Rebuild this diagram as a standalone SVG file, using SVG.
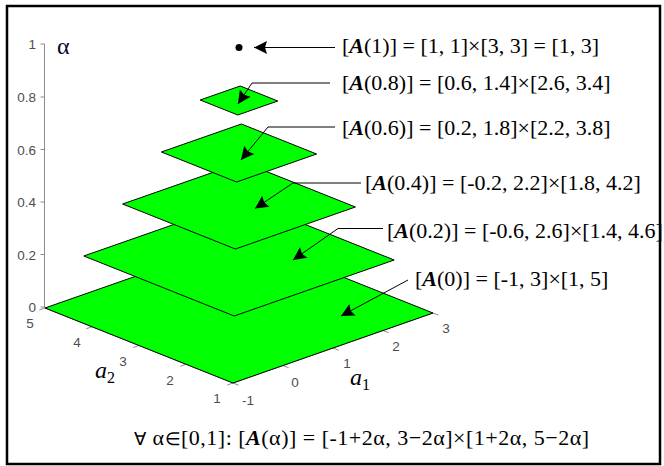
<svg xmlns="http://www.w3.org/2000/svg" width="664" height="466" viewBox="0 0 664 466">
<style>
.plane{fill:#00ff00;stroke:#000;stroke-width:1;stroke-linejoin:round}
.ax{stroke:#8c8c8c;stroke-width:1;fill:none}
.tk{font-family:"Liberation Sans",Arial,sans-serif;font-size:13.5px;fill:#4d4d4d}
.lbl{font-family:"Liberation Serif","Times New Roman",serif;font-size:22px;fill:#000}
.lead{stroke:#000;stroke-width:1;fill:none}
</style>
<defs>
<marker id="ah" markerUnits="userSpaceOnUse" markerWidth="18" markerHeight="18" viewBox="-16 -9 18 18" refX="0" refY="0" orient="auto">
<path d="M0,0 L-13,-6.5 L-11,0 L-13,6.5 Z" fill="#000"/>
</marker>
</defs>
<rect x="7" y="6" width="653" height="458" fill="#fff" stroke="#000" stroke-width="2.5"/>
<g id="axes">
<line class="ax" x1="44.5" y1="44" x2="44.5" y2="308"/>
<path class="ax" d="M40.5,44 H44.5 M40.5,97 H44.5 M40.5,149.5 H44.5 M40.5,202 H44.5 M40.5,254.5 H44.5 M40.5,307 H44.5"/>
<line class="ax" x1="45" y1="308" x2="233" y2="383"/>
<line class="ax" x1="233" y1="383" x2="433" y2="313"/>
<path class="ax" d="M233,383 l-5.7,2 M186,364.25 l-5.7,2 M139,345.5 l-5.7,2 M92,326.75 l-5.7,2 M45,308 l-5.7,2"/>
<path class="ax" d="M233,383 l5.6,2.2 M283,365.5 l5.6,2.2 M333,348 l5.6,2.2 M383,330.5 l5.6,2.2 M433,313 l5.6,2.2"/>
<g class="tk" text-anchor="end">
<text x="36" y="49">1</text>
<text x="36" y="102">0.8</text>
<text x="36" y="154.5">0.6</text>
<text x="36" y="207">0.4</text>
<text x="36" y="259.5">0.2</text>
<text x="36" y="312">0</text>
</g>
<g class="tk" text-anchor="middle">
<text x="30" y="328">5</text>
<text x="77" y="347">4</text>
<text x="123" y="366">3</text>
<text x="170" y="385">2</text>
<text x="217" y="403">1</text>
<text x="248" y="405">-1</text>
<text x="295" y="387">0</text>
<text x="347" y="368">1</text>
<text x="396" y="351">2</text>
<text x="446" y="333">3</text>
</g>
<text x="57" y="54" font-family="'Liberation Serif','Times New Roman',serif" font-size="24" fill="#0a0a28">α</text>
<text x="95" y="378" font-family="'Liberation Serif','Times New Roman',serif" font-size="24" font-style="italic" fill="#000">a<tspan font-style="normal" font-size="16" dy="5">2</tspan></text>
<text x="350" y="385" font-family="'Liberation Serif','Times New Roman',serif" font-size="24" font-style="italic" fill="#000">a<tspan font-style="normal" font-size="16" dy="5">1</tspan></text>
</g>
<g id="cut-0"><polygon class="plane" points="45,308 233,383 433,313 245,238"/></g>
<g id="cut-0.2"><polygon class="plane" points="83.8,256 234.2,316 394.2,260 243.8,200"/></g>
<g id="cut-0.4"><polygon class="plane" points="122.6,204 235.4,249 355.4,207 242.6,162"/></g>
<g id="cut-0.6"><polygon class="plane" points="161.4,152 236.6,182 316.6,154 241.4,124"/></g>
<g id="cut-0.8"><polygon class="plane" points="200.2,100 237.8,115 277.8,101 240.2,86"/></g>
<g id="cut-1"><circle cx="239" cy="47.5" r="3.5" fill="#000"/></g>
<g id="connectors">
<path class="lead" d="M335,47.5 H254" marker-end="url(#ah)"/>
<path class="lead" d="M330,83 H252 L238,104" marker-end="url(#ah)"/>
<path class="lead" d="M335,127 H268 L241,160" marker-end="url(#ah)"/>
<path class="lead" d="M361,183 H293 L255,208.5" marker-end="url(#ah)"/>
<path class="lead" d="M383,228.5 H338 L293,260" marker-end="url(#ah)"/>
<path class="lead" d="M408,280 L341,316" marker-end="url(#ah)"/>
</g>
<g id="labels" class="lbl">
<text x="342" y="53">[<tspan font-style="italic" font-weight="bold">A</tspan>(1)] = [1, 1]×[3, 3] = [1, 3]</text>
<text x="342" y="90">[<tspan font-style="italic" font-weight="bold">A</tspan>(0.8)] = [0.6, 1.4]×[2.6, 3.4]</text>
<text x="342" y="135">[<tspan font-style="italic" font-weight="bold">A</tspan>(0.6)] = [0.2, 1.8]×[2.2, 3.8]</text>
<text x="365" y="190">[<tspan font-style="italic" font-weight="bold">A</tspan>(0.4)] = [-0.2, 2.2]×[1.8, 4.2]</text>
<text x="387" y="238">[<tspan font-style="italic" font-weight="bold">A</tspan>(0.2)] = [-0.6, 2.6]×[1.4, 4.6]</text>
<text x="415" y="286">[<tspan font-style="italic" font-weight="bold">A</tspan>(0)] = [-1, 3]×[1, 5]</text>
<text x="134" y="445" textLength="455" lengthAdjust="spacing"><tspan font-size="18">∀</tspan> α<tspan font-size="18">∈</tspan>[0,1]: [<tspan font-style="italic" font-weight="bold">A</tspan>(α)] = [-1+2α, 3−2α]×[1+2α, 5−2α]</text>
</g>
</svg>
